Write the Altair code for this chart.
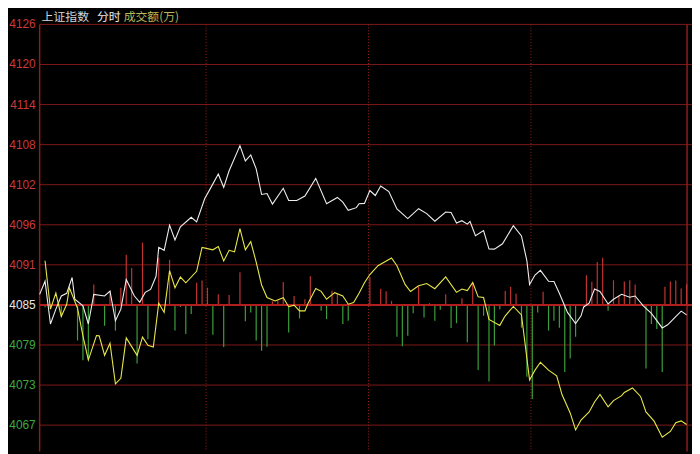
import altair as alt
import pandas as pd

# ---- axis / grid ----
grid_values = [4126.15, 4120.30, 4114.45, 4108.60, 4102.75, 4096.90, 4091.05,
               4085.20, 4079.35, 4073.50, 4067.65]
grid_labels = ["4126", "4120", "4114", "4108", "4102", "4096", "4091",
               "4085", "4079", "4073", "4067"]
base_price = 4085.20
quarter_marks = [61.5, 121.5, 181.5]
title_parts = ["上证指数", "分时", "成交额(万)"]

# ---- index line (white) ----
white_t = [0, 2, 4, 6, 8, 10, 12, 13, 16, 18,
           20, 24, 26, 28, 30, 32, 35, 37, 39, 41,
           43, 44, 46, 48, 50, 52, 56, 58, 61, 63,
           66, 68, 70, 74, 76, 78, 80, 82, 84, 86,
           90, 92, 95, 98, 102, 106, 110, 112, 114, 117,
           118, 120, 122, 124, 126, 129, 132, 136, 140, 143,
           146, 150, 152, 154, 156, 158, 159, 161, 164, 166,
           168, 171, 175, 178, 180, 181, 183, 185, 188, 190,
           192, 195, 198, 200, 201, 203, 205, 207, 210, 212,
           215, 218, 220, 223, 226, 230, 232, 235, 237, 239]
white_p = [4086.74, 4088.66, 4082.41, 4084.58, 4086.50, 4086.89, 4089.20, 4086.02, 4085.06, 4082.41,
           4086.74, 4086.50, 4087.22, 4082.89, 4084.58, 4088.91, 4086.50, 4085.59, 4087.03, 4087.47,
           4089.38, 4093.60, 4093.17, 4096.85, 4094.68, 4096.60, 4098.00, 4097.32, 4100.74, 4102.14,
           4104.31, 4102.37, 4104.78, 4108.45, 4106.22, 4107.09, 4105.07, 4101.32, 4101.46, 4099.92,
           4102.23, 4100.45, 4100.45, 4101.10, 4103.67, 4099.98, 4100.89, 4100.21, 4099.01, 4099.40,
           4099.98, 4100.02, 4101.90, 4101.17, 4102.57, 4101.75, 4099.20, 4097.81, 4099.25, 4098.53,
           4097.42, 4098.76, 4098.68, 4097.16, 4097.49, 4096.99, 4097.38, 4095.29, 4096.05, 4093.35,
           4093.34, 4094.13, 4096.77, 4095.26, 4091.65, 4088.19, 4089.56, 4090.25, 4088.66, 4088.62,
           4086.89, 4084.10, 4082.49, 4083.61, 4084.90, 4085.45, 4087.52, 4087.15, 4085.34, 4086.02,
           4086.74, 4086.31, 4086.50, 4085.06, 4083.97, 4081.84, 4082.30, 4083.50, 4084.29, 4083.74]

# ---- unweighted line (yellow) ----
yellow_t = [2, 4, 6, 8, 10, 11, 14, 16, 18, 21,
            22, 24, 26, 28, 30, 32, 36, 38, 40, 42,
            44, 46, 48, 50, 52, 54, 58, 60, 64, 66,
            68, 70, 72, 74, 76, 78, 80, 82, 84, 87,
            90, 92, 94, 96, 98, 99, 102, 104, 106, 109,
            112, 114, 116, 118, 120, 122, 125, 130, 132, 135,
            137, 140, 143, 146, 150, 154, 156, 158, 160, 162,
            164, 166, 170, 172, 175, 178, 179, 181, 183, 185,
            188, 191, 193, 196, 198, 200, 203, 205, 207, 210,
            212, 215, 216, 219, 222, 224, 227, 230, 233, 235,
            237, 239]
yellow_p = [4091.65, 4084.58, 4086.93, 4083.50, 4085.30, 4087.71, 4084.72, 4080.68, 4077.15, 4080.73,
            4080.68, 4077.84, 4079.60, 4073.68, 4074.48, 4080.39, 4077.84, 4080.50, 4079.31, 4079.05,
            4085.45, 4084.10, 4090.21, 4087.71, 4089.27, 4088.43, 4090.11, 4093.60, 4093.24, 4093.71,
            4091.61, 4093.17, 4092.95, 4096.33, 4093.24, 4094.44, 4091.43, 4088.11, 4086.27, 4085.78,
            4086.24, 4084.94, 4085.16, 4084.33, 4084.33, 4085.30, 4087.61, 4087.18, 4086.02, 4086.99,
            4086.50, 4085.30, 4085.55, 4086.89, 4088.43, 4089.63, 4090.93, 4092.04, 4090.93, 4088.19,
            4087.15, 4087.99, 4088.33, 4087.57, 4089.30, 4087.03, 4087.51, 4087.29, 4088.48, 4086.38,
            4086.27, 4083.09, 4082.21, 4083.61, 4084.97, 4083.74, 4080.61, 4074.23, 4075.68, 4076.82,
            4075.68, 4074.84, 4072.07, 4069.43, 4066.95, 4068.39, 4069.57, 4071.02, 4072.13, 4070.32,
            4071.23, 4071.95, 4072.42, 4073.08, 4071.84, 4069.57, 4068.23, 4065.88, 4066.73, 4067.99,
            4068.27, 4067.74]

# ---- red / green strength bars (offset from base) ----
bar_t = [2, 8, 14, 16, 18, 20, 24, 26, 28, 30,
         32, 34, 36, 38, 40, 44, 48, 50, 52, 54,
         56, 58, 60, 62, 64, 66, 68, 70, 74, 76,
         78, 80, 82, 84, 86, 88, 90, 92, 94, 96,
         98, 100, 104, 106, 108, 110, 112, 114, 122, 126,
         128, 130, 132, 134, 136, 138, 140, 142, 144, 146,
         148, 150, 152, 154, 156, 158, 160, 162, 164, 166,
         168, 170, 172, 174, 176, 178, 180, 182, 184, 186,
         188, 190, 192, 194, 196, 198, 202, 204, 206, 208,
         210, 212, 214, 216, 218, 220, 224, 226, 228, 230,
         231, 233, 235, 237, 239]
bar_v = [-0.33, -1.72, -5.19, -8.08, -8.08, 2.99, -3.03, 2.02, -3.75, 2.51,
         7.32, 5.40, -8.56, 9.09, -5.00, 6.90, 6.59, -3.75, -0.30, -4.23,
         -1.34, 3.23, 3.56, 2.51, -4.37, 1.54, -6.15, 1.45, 4.76, -2.40,
         -1.10, -5.19, -6.68, -6.10, 0.53, 0.68, 3.36, -4.04, 1.30, -1.97,
         0.82, 4.18, -0.87, -2.07, 2.07, 1.59, -2.79, -2.31, 4.09, 2.36,
         1.98, 0.58, -4.66, -6.02, -4.52, -1.23, 2.70, -1.83, 0.25, -2.31,
         -0.72, 1.54, -3.38, -2.67, 0.97, -5.46, 3.18, -9.52, -1.59, -11.19,
         -5.92, -0.62, 2.02, 2.66, 1.64, -3.32, -10.49, -13.75, -1.10, 1.93,
         -3.75, -2.31, -3.32, -9.78, -7.84, -4.66, 4.33, 3.37, 6.27, 6.88,
         -0.87, 3.60, 1.39, 3.42, 3.61, 2.98, -9.28, -2.78, -3.51, -9.78,
         2.65, 3.42, 3.55, 2.38, 3.00]

# ---- styles ----
GRID = "#7e1818"
BASE = "#b01e1e"
UP = "#c03434"
DOWN = "#3c9e3c"

xs = alt.Scale(domain=[0, 241], nice=False, zero=False)
ys = alt.Scale(domain=[4063.81, 4126.15], nice=False, zero=False)

white_df = pd.DataFrame({"t": white_t, "p": white_p})
yellow_df = pd.DataFrame({"t": yellow_t, "p": yellow_p})
bars_df = pd.DataFrame({"t": bar_t, "v": bar_v})
bars_df["end"] = base_price + bars_df["v"]
bars_df["base"] = base_price
bars_df["c"] = [UP if v > 0 else DOWN for v in bar_v]

grid_df = pd.DataFrame({"value": grid_values, "label": grid_labels})
grid_df["c"] = ["#c83a3a" if v > base_price + 0.01 else ("#e6e6e6" if abs(v - base_price) < 0.01 else "#3caa3c")
                for v in grid_values]
hgrid_df = grid_df[grid_df["value"] != base_price]
base_df = pd.DataFrame({"value": [base_price]})
quarter_df = pd.DataFrame({"t": quarter_marks})

hgrid = alt.Chart(hgrid_df).mark_rule(color=GRID, strokeWidth=1).encode(
    y=alt.Y("value:Q", scale=ys, axis=None))
vgrid = alt.Chart(quarter_df).mark_rule(color="#9a2020", strokeWidth=1, strokeDash=[1, 2]).encode(
    x=alt.X("t:Q", scale=xs, axis=None))
left_border = alt.Chart(base_df).mark_rule(color="#8e1c1c", strokeWidth=1.5).encode(
    x=alt.value(0))
right_border = alt.Chart(base_df).mark_rule(color="#8e1c1c", strokeWidth=1.5).encode(
    x=alt.value(655))

bars = alt.Chart(bars_df).mark_rule(strokeWidth=1.2).encode(
    x=alt.X("t:Q", scale=xs, axis=None),
    y=alt.Y("end:Q", scale=ys, axis=None),
    y2="base:Q",
    color=alt.Color("c:N", scale=None),
)
base_line = alt.Chart(base_df).mark_rule(color=BASE, strokeWidth=2).encode(
    y=alt.Y("value:Q", scale=ys, axis=None))

white_line = alt.Chart(white_df).mark_line(color="#eeeeee", strokeWidth=1.1).encode(
    x=alt.X("t:Q", scale=xs, axis=None),
    y=alt.Y("p:Q", scale=ys, axis=None))
yellow_line = alt.Chart(yellow_df).mark_line(color="#e8e84a", strokeWidth=1.1).encode(
    x=alt.X("t:Q", scale=xs, axis=None),
    y=alt.Y("p:Q", scale=ys, axis=None))

labels = alt.Chart(grid_df).mark_text(
    align="right", baseline="middle", font="Liberation Sans", fontSize=12).encode(
    y=alt.Y("value:Q", scale=ys, axis=None),
    x=alt.value(-4),
    text="label:N",
    color=alt.Color("c:N", scale=None),
)

title_df = pd.DataFrame({"txt": title_parts})
TY = -7
t1 = alt.Chart(title_df.iloc[[0]]).mark_text(
    align="left", baseline="middle", font="Noto Sans CJK SC", fontSize=12, color="#d6d6d6").encode(
    x=alt.value(2), y=alt.value(TY), text="txt:N")
t2 = alt.Chart(title_df.iloc[[1]]).mark_text(
    align="left", baseline="middle", font="Noto Sans CJK SC", fontSize=12, color="#ececec").encode(
    x=alt.value(58), y=alt.value(TY), text="txt:N")
t3 = alt.Chart(title_df.iloc[[2]]).mark_text(
    align="left", baseline="middle", font="Noto Sans CJK SC", fontSize=12, color="#b8b85a").encode(
    x=alt.value(85), y=alt.value(TY), text="txt:N")

chart = alt.layer(
    hgrid, vgrid, left_border, right_border, bars, base_line,
    white_line, yellow_line, labels, t1, t2, t3
).properties(
    width=660, height=432,
    padding={"left": 32, "top": 14, "right": 0, "bottom": 0},
    autosize=alt.AutoSizeParams(type="none"),
    background="black",
).configure_view(stroke=None)

chart.save("out.html", embed_options={"renderer": "svg", "actions": False})
